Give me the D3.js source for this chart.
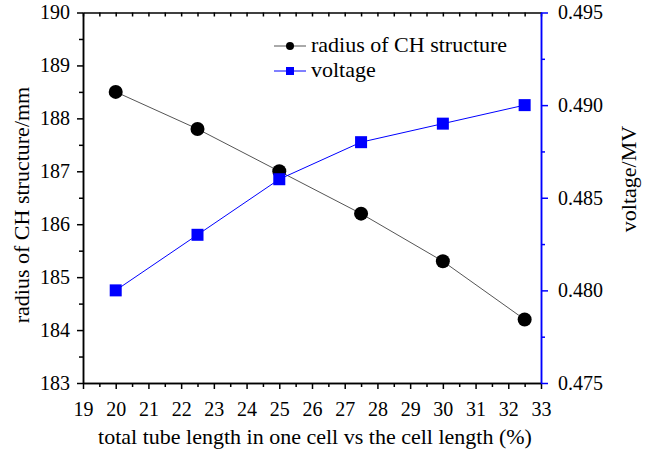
<!DOCTYPE html>
<html>
<head>
<meta charset="utf-8">
<script src="https://cdn.jsdelivr.net/npm/d3@7"></script>
<style>
svg text, svg .tick text { font-family: 'Liberation Serif', 'Times New Roman', serif !important; }
</style>
</head>
<body style="margin:0">
<svg id="chart" width="645" height="455"></svg>
<script>
// data
var lengthPct = [20, 22.5, 25, 27.5, 30, 32.5];
var radius = [188.5, 187.8, 187.0, 186.2, 185.3, 184.2];
var voltage = [0.480, 0.483, 0.486, 0.488, 0.489, 0.490];
var xTicks = d3.range(19, 34);
var yLeftTicks = d3.range(183, 191);
var yRightTicks = [0.475, 0.480, 0.485, 0.490, 0.495];

var fontFam = "'Liberation Serif'";
var svg = d3.select("#chart");
var plotLeft = 83, plotRight = 541, plotTop = 12.5, plotBottom = 383;
var blue = "#0000ff";

var x = d3.scaleLinear().domain([19, 33]).range([plotLeft, plotRight]);
var yL = d3.scaleLinear().domain([183, 190]).range([plotBottom, plotTop]);
var yR = d3.scaleLinear().domain([0.475, 0.495]).range([plotBottom, plotTop]);

function serifText(sel, size) {
    sel.attr("font-family", "Liberation Serif")
        .style("font-family", fontFam, "important").style("font-size", size + "px");
}

function styleAxis(g, color, size) {
    g.attr("font-family", "Liberation Serif");
    g.select(".domain").attr("stroke", color).attr("stroke-width", 1.5);
    g.selectAll(".tick line").attr("stroke", color).attr("stroke-width", 1.5);
    g.selectAll(".tick text").attr("fill", "#000").call(serifText, size);
}

// bottom axis
var gx = svg.append("g").attr("transform", "translate(0," + plotBottom + ")")
    .call(d3.axisBottom(x).tickValues(xTicks).tickSize(6).tickSizeOuter(0).tickPadding(13).tickFormat(d3.format("d")));
styleAxis(gx, "#000", 20);
var gxm = svg.append("g").attr("transform", "translate(0," + plotBottom + ")")
    .call(d3.axisBottom(x).tickValues(d3.range(19.5, 33, 1)).tickSize(4).tickSizeOuter(0).tickFormat(""));
styleAxis(gxm, "#000", 20);

// top axis (mirror, ticks inward)
var gt = svg.append("g").attr("transform", "translate(0," + plotTop + ")")
    .call(d3.axisTop(x).tickValues(d3.range(19, 33.01, 0.5)).tickSize(-4).tickSizeOuter(0).tickFormat(""));
styleAxis(gt, "#000", 20);

// left axis
var gl = svg.append("g").attr("transform", "translate(" + plotLeft + ",0)")
    .call(d3.axisLeft(yL).tickValues(yLeftTicks).tickSize(6).tickSizeOuter(0).tickPadding(7).tickFormat(d3.format("d")));
styleAxis(gl, "#000", 20);
var glm = svg.append("g").attr("transform", "translate(" + plotLeft + ",0)")
    .call(d3.axisLeft(yL).tickValues(d3.range(183.5, 190, 1)).tickSize(4).tickSizeOuter(0).tickFormat(""));
styleAxis(glm, "#000", 20);

// right axis (blue)
var gr = svg.append("g").attr("transform", "translate(" + plotRight + ",0)")
    .call(d3.axisRight(yR).tickValues(yRightTicks).tickSize(7).tickSizeOuter(0).tickPadding(10).tickFormat(d3.format(".3f")));
styleAxis(gr, blue, 20);
var grm = svg.append("g").attr("transform", "translate(" + plotRight + ",0)")
    .call(d3.axisRight(yR).tickValues([0.4775, 0.4825, 0.4875, 0.4925]).tickSize(4).tickSizeOuter(0).tickFormat(""));
styleAxis(grm, blue, 20);

// axis titles
svg.append("text").attr("x", 315).attr("y", 444)
    .attr("text-anchor", "middle").call(serifText, 22)
    .text("total tube length in one cell vs the cell length (%)");
svg.append("text").attr("transform", "translate(29,205) rotate(-90)")
    .attr("text-anchor", "middle").call(serifText, 22)
    .text("radius of CH structure/mm");
svg.append("text").attr("transform", "translate(636,179) rotate(-90)")
    .attr("text-anchor", "middle").call(serifText, 22)
    .text("voltage/MV");

// radius series
svg.append("path").datum(lengthPct)
    .attr("fill", "none").attr("stroke", "#555").attr("stroke-width", 1)
    .attr("d", d3.line().x(function(d){ return x(d); }).y(function(d, i){ return yL(radius[i]); }));
svg.selectAll(".dot").data(lengthPct).enter().append("circle")
    .attr("cx", function(d){ return x(d); })
    .attr("cy", function(d, i){ return yL(radius[i]); })
    .attr("r", 7).attr("fill", "#000");

// voltage series
svg.append("path").datum(lengthPct)
    .attr("fill", "none").attr("stroke", blue).attr("stroke-width", 1)
    .attr("d", d3.line().x(function(d){ return x(d); }).y(function(d, i){ return yR(voltage[i]); }));
svg.selectAll(".sq").data(lengthPct).enter().append("rect")
    .attr("x", function(d){ return x(d) - 6; })
    .attr("y", function(d, i){ return yR(voltage[i]) - 6; })
    .attr("width", 12).attr("height", 12).attr("fill", blue);

// legend
var leg = svg.append("g");
leg.append("line").attr("x1", 274).attr("x2", 306).attr("y1", 46).attr("y2", 46).attr("stroke", "#555");
leg.append("circle").attr("cx", 290).attr("cy", 46).attr("r", 4).attr("fill", "#000");
leg.append("text").attr("x", 311).attr("y", 52).call(serifText, 22).text("radius of CH structure");
leg.append("line").attr("x1", 274).attr("x2", 306).attr("y1", 71).attr("y2", 71).attr("stroke", blue);
leg.append("rect").attr("x", 286).attr("y", 67).attr("width", 8).attr("height", 8).attr("fill", blue);
leg.append("text").attr("x", 311).attr("y", 77).call(serifText, 22).text("voltage");
</script>
</body>
</html>
